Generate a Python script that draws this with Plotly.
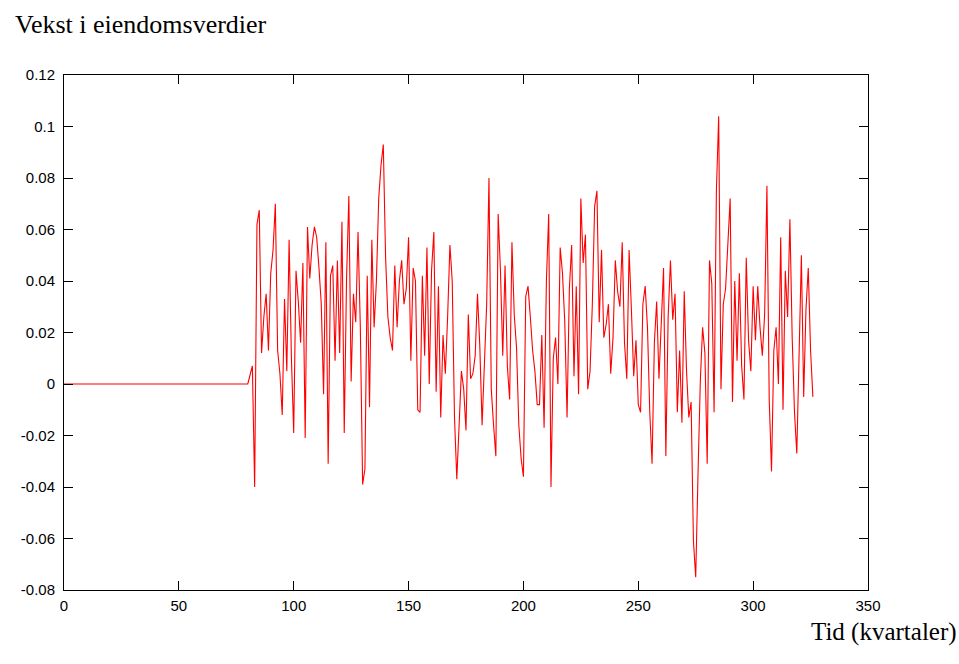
import plotly.graph_objects as go

# Quarterly growth in property values
flat_quarters = list(range(0, 81))          # 0..80, zero growth
flat_values = [0.0] * len(flat_quarters)

growth_values = [
    0.0035, 0.007, -0.040, 0.062, 0.0675, 0.012, 0.026, 0.035, 0.013, 0.043,   # 81-90
    0.052, 0.070, 0.013, 0.004, -0.012, 0.033, 0.005, 0.056, 0.010, -0.019,    # 91-100
    0.044, 0.032, 0.016, 0.047, -0.021, 0.061, 0.041, 0.054, 0.061, 0.057,     # 101-110
    0.045, 0.031, -0.004, 0.055, -0.031, 0.042, 0.046, 0.009, 0.048, 0.012,    # 111-120
    0.063, -0.019, 0.041, 0.073, 0.001, 0.035, 0.024, 0.059, 0.022, -0.039,    # 121-130
    -0.033, 0.042, -0.009, 0.056, 0.022, 0.040, 0.072, 0.085, 0.093, 0.049,    # 131-140
    0.026, 0.018, 0.013, 0.046, 0.022, 0.040, 0.048, 0.031, 0.037, 0.057,      # 141-150
    0.009, 0.045, 0.040, -0.010, -0.011, 0.042, 0.011, 0.053, 0.000, 0.044,    # 151-160
    0.059, -0.003, 0.038, -0.013, 0.019, 0.004, 0.026, 0.054, 0.040, -0.013,   # 161-170
    -0.037, -0.013, 0.005, -0.002, -0.018, 0.027, 0.002, 0.004, 0.011, 0.035,  # 171-180
    0.015, -0.016, 0.007, 0.031, 0.080, -0.002, -0.016, -0.028, 0.066, 0.044,  # 181-190
    0.011, 0.046, 0.007, -0.006, 0.055, 0.027, 0.014, -0.016, -0.029, -0.036,  # 191-200
    0.034, 0.038, 0.026, 0.013, 0.005, -0.008, -0.008, 0.019, -0.017, 0.040,   # 201-210
    0.066, -0.040, 0.010, 0.018, 0.000, 0.053, 0.043, 0.024, -0.013, 0.037,    # 211-220
    0.054, 0.003, 0.038, -0.004, 0.072, 0.047, 0.058, -0.002, 0.005, 0.031,    # 221-230
    0.069, 0.075, 0.024, 0.052, 0.018, 0.023, 0.031, 0.004, 0.018, 0.048,      # 231-240
    0.036, 0.030, 0.055, 0.016, 0.002, 0.052, 0.029, 0.003, 0.017, -0.008,     # 241-250
    -0.011, 0.031, 0.038, 0.022, -0.011, -0.031, 0.016, 0.032, 0.002, 0.026,   # 251-260
    0.045, -0.028, 0.026, 0.048, 0.025, 0.035, -0.011, 0.013, -0.015, 0.036,   # 261-270
    0.005, -0.013, -0.007, -0.061, -0.075, -0.035, 0.001, 0.022, 0.012, -0.031,  # 271-280
    0.048, 0.039, -0.011, 0.075, 0.104, -0.002, 0.031, 0.037, 0.055, 0.072,    # 281-290
    -0.007, 0.040, 0.009, 0.043, 0.007, -0.006, 0.049, 0.017, 0.005, 0.038,    # 291-300
    0.017, 0.038, 0.022, 0.011, 0.027, 0.077, -0.006, -0.034, 0.013, 0.022,    # 301-310
    0.000, 0.057, -0.010, 0.044, 0.026, 0.064, 0.018, -0.011, -0.027, 0.019,   # 311-320
    0.050, -0.005, 0.029, 0.045, 0.013, -0.005,                                # 321-326
]
growth_quarters = list(range(81, 81 + len(growth_values)))

quarters = flat_quarters + growth_quarters
values = flat_values + growth_values

x_ticks = [0, 50, 100, 150, 200, 250, 300, 350]
y_ticks = [-0.08, -0.06, -0.04, -0.02, 0, 0.02, 0.04, 0.06, 0.08, 0.1, 0.12]
y_tick_labels = ["-0.08", "-0.06", "-0.04", "-0.02", "0", "0.02", "0.04",
                 "0.06", "0.08", "0.1", "0.12"]

title_text = "Vekst i eiendomsverdier"
xlabel_text = "Tid (kvartaler)"

tick_font = dict(family="Liberation Sans, Arial, sans-serif", size=15, color="#000000")

fig = go.Figure()
fig.add_trace(go.Scatter(
    x=quarters, y=values, mode="lines",
    line=dict(color="#ff0000", width=1.1),
    hoverinfo="skip", showlegend=False,
))

axis_common = dict(
    showgrid=False, zeroline=False,
    showline=True, linecolor="#000000", linewidth=1,
    mirror="allticks", ticks="inside", ticklen=9, tickwidth=1,
    tickcolor="#000000", tickfont=tick_font,
)

fig.update_layout(
    width=959, height=664,
    margin=dict(l=64, r=91, t=75, b=74),
    paper_bgcolor="#ffffff", plot_bgcolor="#ffffff",
    xaxis=dict(range=[0, 350], tickvals=x_ticks, ticklabelstandoff=2, **axis_common),
    yaxis=dict(range=[-0.08, 0.12], tickvals=y_ticks, ticktext=y_tick_labels,
               ticklabelstandoff=5, **axis_common),
    annotations=[
        dict(text=title_text, xref="paper", yref="paper",
             x=-0.0635, y=1.099, xanchor="left", yanchor="middle",
             showarrow=False,
             font=dict(family="Liberation Serif, Times New Roman, serif", size=26, color="#000000")),
        dict(text=xlabel_text, xref="paper", yref="paper",
             x=1.1135, y=-0.082, xanchor="right", yanchor="middle",
             showarrow=False,
             font=dict(family="Liberation Serif, Times New Roman, serif", size=25, color="#000000")),
    ],
)

fig.write_html("out.html")
